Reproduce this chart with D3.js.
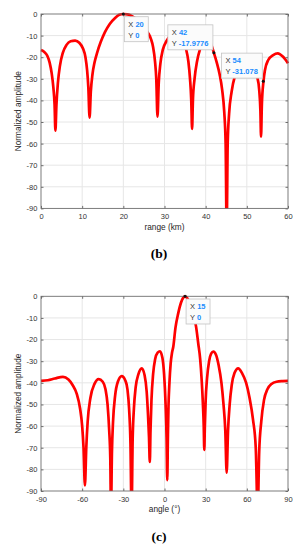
<!DOCTYPE html>
<html>
<head>
<meta charset="utf-8">
<script src="https://cdn.jsdelivr.net/npm/d3@7/dist/d3.min.js"></script>
<style>
body { margin: 0; background: #fff; }
svg { display: block; font-family: "Liberation Sans", Arial, sans-serif; }
</style>
</head>
<body>
<svg id="fig" width="301" height="550"></svg>
<script>
// panel (b): amplitude against range
var rangeKm = [0, 0.8, 1.5, 2.1, 2.6, 3.0, 3.3, 3.5, 3.75, 4.1, 4.6, 5.3, 6.2, 7.2, 8.3, 9.3, 10.2, 10.8, 11.2, 11.5, 11.8,
  12.1, 12.5, 13.0, 13.7, 14.5, 15.5, 16.7, 18, 19, 20, 21, 22, 23, 24, 25, 26, 26.7, 27.2, 27.7, 28.0, 28.3,
  28.6, 29.0, 29.6, 30.5, 31.5, 32.7, 33.8, 34.6, 35.2, 35.8, 36.2, 36.5, 36.7, 36.9, 37.3, 37.9, 38.6, 39.4,
  40.3, 41.2, 42, 42.7, 43.4, 44, 44.5, 44.85, 45.1, 45.35, 45.7, 46.3, 47.2, 48.3, 49.5, 50.7, 51.7, 52.5,
  53, 53.3, 53.45, 53.65, 54.05, 54.4, 55.2, 56.4, 57.5, 58.8, 60];
var ampRange = [-16.7, -17.6, -19.2, -22.5, -27.5, -34, -42, -54, -42, -32, -24, -18, -14.3, -12.6, -12.3, -13.3, -16, -20, -26, -34, -48,
  -36, -28, -22.5, -17.5, -13, -8.5, -4.6, -1.8, -0.4, 0, -0.2, -0.9, -2.1, -3.8, -6, -8.7, -11.5, -15, -22, -30, -47.5,
  -32, -23, -16.5, -12.5, -10, -9.2, -10.3, -13, -16, -22, -30, -40, -53.2, -40, -30, -22, -16.5, -13.3,
  -11.8, -13.5, -17.9776, -22.5, -28, -35, -45, -60, -100, -60, -46, -36, -28, -23.5, -22, -23, -25.5, -29,
  -35, -45, -56.8, -42, -31.078, -26, -21.3, -19, -18.2, -19.8, -22.8];

// panel (c): amplitude against angle
var angleDeg = [-90, -85, -80, -74, -70, -67, -64, -61.5, -60, -59, -58, -57, -56, -54, -51, -48, -45, -43, -41.5, -40.3,
  -39.5, -39, -38.3, -37.5, -36, -34, -31.2, -28.5, -27, -25.8, -24.8, -24, -23.2, -22.3, -21, -19, -16.6,
  -14.5, -13, -12, -11.3, -10.7, -10.2, -9.5, -8.3, -6.8, -5, -3.3, -1.5, -0.3, 0.8, 1.5, 2.0, 2.5, 2.9,
  3.6, 4.5, 5.5, 6.4, 8, 10, 12, 13.5, 15, 16.5, 18.5, 21, 23, 24.6, 26, 27.1, 28, 28.6, 29, 29.4, 30,
  31, 32.5, 34, 35.6, 37.5, 39.5, 41.5, 43, 44.3, 45.3, 46.3, 47.5, 49, 51, 53.7, 56.5, 59.5, 62, 64.5,
  66.5, 67.9, 69, 70.5, 72.5, 75, 78, 81.7, 86, 90];
var ampAngle = [-39.1, -38.8, -38, -37.2, -38.5, -41, -45, -52, -60, -70, -87.4, -70, -58, -47, -40.5, -38.3, -39.5, -43, -50, -62,
  -75, -100, -72, -58, -46, -39.5, -36.9, -39, -43, -52, -68, -100, -66, -52, -42, -36, -33.3,
  -36.5, -44, -55, -65, -76.6, -62, -48, -36, -29, -26, -25.4, -28.5, -36, -50, -65, -85, -64, -51,
  -40, -31, -26, -23.3, -14.5, -7.9, -3, -0.8, 0, -0.8, -3, -7.9, -14, -21.8, -29, -38.8, -50, -60, -71, -60, -48,
  -38, -30, -26.5, -25.6, -27, -32, -40, -50, -62, -81.5, -62, -50, -41, -35.5, -33.3, -35.5, -40, -47, -57,
  -70, -100, -72, -58, -48, -43, -40.5, -39.5, -39.2, -39.1];

var rangeTicks = [0, 10, 20, 30, 40, 50, 60];
var angleTicks = [-90, -60, -30, 0, 30, 60, 90];
var ampTicks = [0, -10, -20, -30, -40, -50, -60, -70, -80, -90];

// data tips: [x, y, x text, y text]
var tipsRange = [[20, 0, "20", "0"], [42, -17.9776, "42", "-17.9776"], [54, -31.078, "54", "-31.078"]];
var tipsAngle = [[15, 0, "15", "0"]];

var svg = d3.select('#fig');

function panel(o) {
  var x = d3.scaleLinear().domain(o.xDomain).range([41, 288]);
  var y = d3.scaleLinear().domain([-90, 0]).range([o.bottom, o.top]);
  var g = svg.append('g');

  // grid
  g.selectAll('.vg').data(o.xTicks.slice(1, -1)).enter().append('line')
    .attr('x1', d => x(d)).attr('x2', d => x(d)).attr('y1', o.top).attr('y2', o.bottom)
    .attr('stroke', '#e6e6e6').attr('stroke-width', 1);
  g.selectAll('.hg').data(ampTicks.slice(1, -1)).enter().append('line')
    .attr('x1', 41).attr('x2', 288).attr('y1', d => y(d)).attr('y2', d => y(d))
    .attr('stroke', '#e6e6e6').attr('stroke-width', 1);

  // curve
  var clipId = 'clip' + o.name;
  svg.append('clipPath').attr('id', clipId).append('rect')
    .attr('x', 38).attr('y', o.top - 4).attr('width', 253).attr('height', o.bottom - o.top + 4);
  var line = d3.line().x(d => x(d[0])).y(d => y(d[1])).curve(d3.curveMonotoneX);
  g.append('path').datum(d3.zip(o.xs, o.ys))
    .attr('clip-path', 'url(#' + clipId + ')')
    .attr('d', line).attr('fill', 'none').attr('stroke', '#ff0000')
    .attr('stroke-width', 2.7).attr('stroke-linejoin', 'round');

  // axes box and ticks
  var fmt = d => String(d);
  var axB = g.append('g').attr('transform', 'translate(0,' + o.bottom + ')')
    .call(d3.axisBottom(x).tickValues(o.xTicks).tickSizeInner(-2.5).tickSizeOuter(0).tickFormat(fmt));
  axB.selectAll('text').attr('y', 11).attr('dy', null);
  g.append('g').attr('transform', 'translate(0,' + o.top + ')')
    .call(d3.axisTop(x).tickValues(o.xTicks).tickSizeInner(-2.5).tickSizeOuter(0).tickFormat(''));
  g.append('g').attr('transform', 'translate(41,0)')
    .call(d3.axisLeft(y).tickValues(ampTicks).tickSizeInner(-2.5).tickSizeOuter(0).tickPadding(3.7).tickFormat(fmt));
  g.append('g').attr('transform', 'translate(288,0)')
    .call(d3.axisRight(y).tickValues(ampTicks).tickSizeInner(-2.5).tickSizeOuter(0).tickFormat(''));
  g.selectAll('.domain').remove();
  g.selectAll('.tick line').attr('stroke', '#6e6e6e');
  g.selectAll('.tick text').attr('fill', '#333').attr('font-size', 7.5)
    .attr('font-family', '"Liberation Sans", Arial, sans-serif');
  g.append('rect').attr('x', 41).attr('y', o.top).attr('width', 247).attr('height', o.bottom - o.top)
    .attr('fill', 'none').attr('stroke', '#6e6e6e').attr('stroke-width', 0.9);

  // labels
  g.append('text').attr('x', 164.5).attr('y', o.bottom + 21.3).attr('text-anchor', 'middle')
    .attr('font-size', 8.3).attr('fill', '#262626').text(o.xLabel);
  g.append('text').attr('transform', 'translate(20.5,' + (o.top + o.bottom) / 2 + ') rotate(-90)')
    .attr('text-anchor', 'middle').attr('font-size', 8.3).attr('fill', '#262626').text('Normalized amplitude');
  g.append('text').attr('x', 159).attr('y', o.captionY).attr('text-anchor', 'middle')
    .attr('font-family', '"Liberation Serif", "Times New Roman", serif').attr('font-weight', 'bold')
    .attr('font-size', 13.5).attr('fill', '#000').text(o.caption);

  // data tips
  o.tips.forEach(function(t, i) {
    var px = x(t[0]), py = y(t[1]);
    var tg = g.append('g');
    var box = tg.append('rect').attr('fill', '#fbfbfb').attr('stroke', '#c4c4c4').attr('stroke-width', 0.8);
    var l1 = tg.append('text').attr('font-size', 7.5);
    l1.append('tspan').attr('fill', '#333').text('X ');
    l1.append('tspan').attr('fill', '#1a8cff').attr('font-weight', 'bold').text(t[2]);
    var l2 = tg.append('text').attr('font-size', 7.5);
    l2.append('tspan').attr('fill', '#333').text('Y ');
    l2.append('tspan').attr('fill', '#1a8cff').attr('font-weight', 'bold').text(t[3]);
    var w = Math.max(l1.node().getComputedTextLength(), l2.node().getComputedTextLength()) + 8.5;
    var h = 25;
    var bx, by;
    if (o.tipSide[i] === 'se') { bx = px + 1; by = py + 2.7; }
    else { bx = px - 1 - w; by = py - 3 - h; }
    box.attr('x', bx).attr('y', by).attr('width', w).attr('height', h);
    l1.attr('x', bx + 4).attr('y', by + 10.2);
    l2.attr('x', bx + 4).attr('y', by + 21);
    g.append('circle').attr('cx', px).attr('cy', py).attr('r', 1.5).attr('fill', '#111');
  });
}

panel({ name: 'b', top: 14, bottom: 208.4, xDomain: [0, 60], xTicks: rangeTicks, xs: rangeKm, ys: ampRange,
  xLabel: 'range (km)', caption: '(b)', captionY: 258.3, tips: tipsRange, tipSide: ['se', 'nw', 'nw'] });
panel({ name: 'c', top: 296.3, bottom: 491, xDomain: [-90, 90], xTicks: angleTicks, xs: angleDeg, ys: ampAngle,
  xLabel: 'angle (°)', caption: '(c)', captionY: 540.5, tips: tipsAngle, tipSide: ['se'] });
</script>
</body>
</html>
